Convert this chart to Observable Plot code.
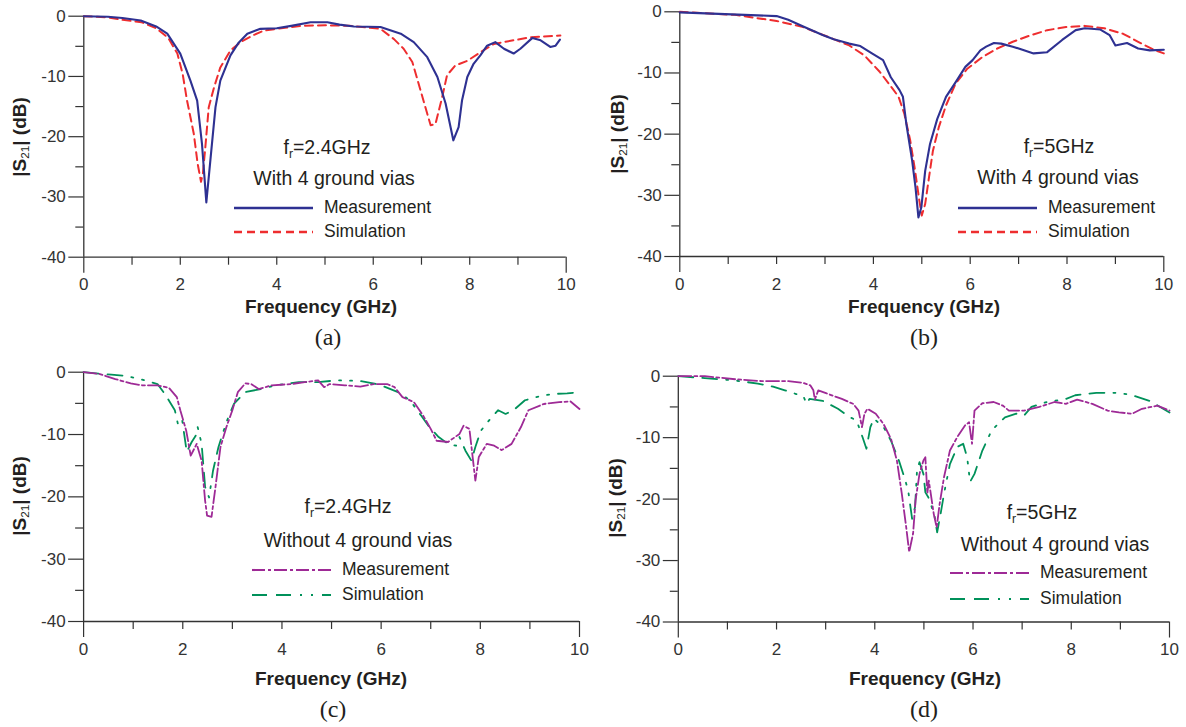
<!DOCTYPE html>
<html><head><meta charset="utf-8">
<script src="https://cdn.jsdelivr.net/npm/d3@7"></script>
<script src="https://cdn.jsdelivr.net/npm/@observablehq/plot@0.6"></script>
<style>
body{margin:0;background:#fff;}
#root{position:relative;width:1186px;height:727px;overflow:hidden;font-family:"Liberation Sans",Arial,sans-serif;color:#231f20;}
.p{position:absolute;}
.t{position:absolute;white-space:nowrap;transform:translate(-50%,-50%);line-height:1;}
.l{position:absolute;white-space:nowrap;transform:translate(0,-50%);line-height:1;font-size:17.5px;}
.xl{font-weight:bold;font-size:19px;}
.cap{font-family:"Liberation Serif","Times New Roman",serif;font-size:24px;}
.yl{font-weight:bold;font-size:19px;transform:translate(-50%,-50%) rotate(-90deg);}
.ann{font-size:19.5px;}
sub{font-size:0.62em;vertical-align:-0.3em;line-height:0;font-weight:normal;}
svg.leg{position:absolute;overflow:visible;}
</style></head><body><div id="root"></div>
<script>
// ---- Data (frequency GHz, |S21| dB) ----
const measA = [[0,0],[0.5,-0.1],[0.8,-0.3],[1.18,-0.7],[1.5,-1.7],[1.73,-2.9],[2.0,-6.2],[2.21,-10.7],[2.35,-14],[2.45,-21.2],[2.54,-30.9],[2.63,-23.4],[2.73,-15.1],[2.83,-10.7],[3.04,-6.5],[3.2,-4.5],[3.39,-2.9],[3.66,-2.1],[4.0,-2],[4.3,-1.6],[4.7,-1.0],[5.05,-1.0],[5.3,-1.4],[5.6,-1.7],[6.15,-1.8],[6.57,-2.9],[6.84,-4.3],[7.12,-6.8],[7.33,-10.1],[7.5,-14.5],[7.66,-20.6],[7.77,-18.4],[7.84,-14],[7.95,-10.1],[8.08,-7.9],[8.22,-6.5],[8.36,-4.9],[8.53,-4.3],[8.71,-5.4],[8.91,-6.2],[9.05,-5.4],[9.3,-3.6],[9.47,-4],[9.67,-5.1],[9.78,-4.9],[9.87,-3.9]];
const simA = [[0,0],[0.5,-0.2],[0.8,-0.6],[1.2,-1.0],[1.5,-2],[1.75,-3.6],[1.94,-6.2],[2.05,-9.6],[2.14,-14],[2.28,-19.5],[2.36,-24.5],[2.43,-27.5],[2.47,-26],[2.52,-21.7],[2.59,-15.1],[2.7,-11.8],[2.83,-8.5],[3.04,-5.7],[3.25,-4.3],[3.5,-3.2],[3.73,-2.4],[4.0,-2.1],[4.5,-1.6],[5.0,-1.5],[5.5,-1.6],[6.15,-2.1],[6.43,-3.8],[6.63,-5.4],[6.81,-7.6],[6.98,-12.3],[7.12,-16.2],[7.19,-18.1],[7.29,-17.9],[7.43,-13.4],[7.53,-9.8],[7.7,-8.2],[7.95,-7.4],[8.22,-6],[8.5,-4.6],[8.91,-4],[9.26,-3.5],[9.88,-3.2]];
const measB = [[0,-0.1],[2.0,-0.7],[2.24,-1.3],[2.55,-2.4],[2.95,-3.8],[3.18,-4.5],[3.5,-5.2],[3.73,-5.6],[3.97,-6.8],[4.2,-7.9],[4.36,-10.7],[4.54,-12.8],[4.61,-13.9],[4.68,-18.3],[4.8,-24.3],[4.87,-28.7],[4.93,-33.6],[4.99,-32],[5.07,-26],[5.17,-21.6],[5.32,-17.5],[5.5,-13.9],[5.7,-11.5],[5.9,-9],[6.05,-7.9],[6.21,-6.3],[6.33,-5.7],[6.49,-5.1],[6.64,-5.2],[6.88,-5.7],[7.08,-6.2],[7.31,-6.8],[7.59,-6.6],[7.9,-4.6],[8.18,-3],[8.37,-2.7],[8.69,-2.9],[8.88,-3.8],[9.0,-5.5],[9.24,-5.1],[9.47,-6],[9.71,-6.3],[10,-6.2]];
const simB = [[0,0],[1.14,-0.5],[2.0,-1.5],[2.55,-2.5],[3.03,-4],[3.5,-5.5],[3.81,-7.1],[4.13,-9.8],[4.4,-12.6],[4.52,-13.9],[4.64,-16.7],[4.76,-21],[4.85,-25.4],[4.95,-30.9],[5.0,-33.3],[5.07,-31.4],[5.15,-27],[5.23,-22.7],[5.35,-18.9],[5.5,-15.3],[5.7,-11.7],[5.94,-9.3],[6.25,-7.4],[6.56,-6],[6.88,-4.9],[7.19,-4],[7.59,-3],[7.98,-2.5],[8.37,-2.3],[8.77,-2.7],[9.16,-3.6],[9.47,-4.9],[9.79,-6.2],[10,-6.8]];
const measC = [[0,0],[0.33,-0.3],[0.64,-1.1],[0.95,-1.8],[1.18,-2.1],[1.49,-2.1],[1.72,-2.5],[1.88,-4],[1.95,-6.1],[2.07,-9.4],[2.16,-13.4],[2.28,-11.5],[2.38,-14.2],[2.45,-20.6],[2.49,-23],[2.58,-23.2],[2.66,-18.4],[2.76,-12],[2.88,-8.8],[3.0,-6.1],[3.11,-3.2],[3.26,-1.8],[3.38,-1.9],[3.53,-2.7],[3.8,-2.1],[4.19,-1.9],[4.73,-1.3],[4.85,-2.4],[4.96,-1.9],[5.27,-2.1],[5.58,-2.3],[5.85,-1.9],[6.12,-1.9],[6.27,-2.4],[6.43,-4],[6.66,-4.8],[6.85,-7],[7.0,-9.1],[7.12,-11],[7.35,-11.2],[7.58,-9.9],[7.66,-8.6],[7.78,-9.1],[7.9,-17.4],[7.97,-13.6],[8.13,-11.5],[8.28,-11.8],[8.43,-12.5],[8.63,-11.5],[8.82,-8.8],[8.97,-6.1],[9.28,-5.1],[9.59,-4.8],[9.82,-4.7],[10,-5.9]];
const simC = [[0,0],[0.56,-0.4],[0.87,-0.6],[1.18,-1.2],[1.49,-1.9],[1.64,-3.5],[1.84,-6.1],[1.91,-8.6],[1.99,-7.8],[2.08,-12.8],[2.18,-11.2],[2.26,-10.2],[2.3,-8.8],[2.38,-11.5],[2.45,-18.4],[2.53,-20.1],[2.61,-15.8],[2.72,-12],[2.88,-8],[3.03,-5.1],[3.26,-3.2],[3.57,-2.7],[3.88,-2.1],[4.34,-1.6],[4.73,-1.6],[5.12,-1.3],[5.58,-1.4],[5.96,-2],[6.34,-3.2],[6.58,-4.5],[6.81,-7],[6.97,-8.8],[7.16,-10.4],[7.35,-11.5],[7.51,-11.8],[7.58,-10.4],[7.7,-12.6],[7.82,-14.2],[7.9,-12],[8.01,-9.4],[8.2,-7.5],[8.36,-6.1],[8.51,-6.7],[8.67,-6.1],[8.9,-4.5],[9.13,-4],[9.44,-3.5],[9.75,-3.4],[10,-3.2]];
const measD = [[0,0],[0.54,0],[1.16,-0.5],[1.7,-0.8],[2.24,-0.8],[2.55,-1.1],[2.69,-1.5],[2.75,-2.3],[2.78,-3.8],[2.85,-2.3],[3.02,-2.8],[3.33,-3.7],[3.56,-4.5],[3.67,-5.6],[3.74,-8.3],[3.79,-6.1],[3.85,-5.3],[4.02,-6.1],[4.18,-7.8],[4.33,-10.2],[4.45,-13.7],[4.55,-19.1],[4.64,-24.6],[4.7,-28.6],[4.78,-25.6],[4.83,-20.2],[4.91,-15.9],[4.99,-13.7],[5.03,-13.2],[5.07,-19.1],[5.1,-17],[5.16,-20.2],[5.2,-22.4],[5.26,-24.6],[5.32,-20.8],[5.41,-16.4],[5.53,-12.1],[5.68,-9.9],[5.84,-8],[5.92,-7.5],[5.96,-9.9],[5.98,-11],[6.03,-5.6],[6.19,-4.4],[6.42,-4.2],[6.61,-4.8],[6.73,-5.6],[7.04,-5.6],[7.35,-5],[7.66,-4.2],[7.89,-4.5],[8.12,-3.8],[8.43,-4.5],[8.74,-5.6],[8.97,-5.9],[9.24,-6.1],[9.44,-5.3],[9.75,-4.8],[10,-5.6]];
const simD = [[0,0],[0.54,-0.3],[1.16,-0.7],[1.62,-1.2],[1.93,-1.7],[2.17,-2.3],[2.4,-2.9],[2.55,-3.3],[2.61,-4.5],[2.67,-3.7],[2.94,-4],[3.25,-5.3],[3.48,-6.6],[3.63,-7.2],[3.75,-9.9],[3.83,-11.8],[3.91,-8.3],[3.98,-6.9],[4.18,-8.3],[4.33,-10.5],[4.49,-13.7],[4.6,-16.4],[4.68,-18.6],[4.76,-23.2],[4.82,-21.3],[4.86,-15.3],[4.91,-14],[4.99,-15.9],[5.03,-18.9],[5.09,-19.7],[5.14,-20.8],[5.22,-22.9],[5.27,-25.4],[5.34,-22.4],[5.41,-19.1],[5.53,-14.3],[5.68,-11.5],[5.8,-11],[5.88,-13.2],[5.94,-17.2],[6.03,-15.9],[6.19,-12.1],[6.38,-8.8],[6.65,-6.7],[6.88,-6.1],[7.04,-6.4],[7.19,-5],[7.5,-4.2],[7.89,-3.7],[8.08,-3.1],[8.51,-2.7],[8.89,-2.7],[9.2,-3],[9.59,-4],[10,-5.9]];

const yMajor = [0,-10,-20,-30,-40];
const yMinor = [-5,-15,-25,-35];
const xLabels = [0,2,4,6,8,10];
const xMinor = [1,2,3,4,5,6,7,8,9];
const xEnds = [0,10];
const seriesNames = ["Measurement","Simulation"];
const captions = ["(a)","(b)","(c)","(d)"];

// ---- Styles ----
const AX = "#333";
const styles = {
  blue:{stroke:"#2e3192",dash:null,w:2.1},
  red:{stroke:"#ee2d2f",dash:"8,5",w:2},
  mag:{stroke:"#9e2a96",dash:"13,3,3,3",w:1.8},
  grn:{stroke:"#00915a",dash:"15,9,15,9,2,9,2,9",w:1.8}
};

const panels = [
  {left:0,top:0,w:590,h:300,x0:83.3,x10:565.7,y0:15.7,y40:256.7,
   meas:measA,sim:simA,ms:styles.blue,ss:styles.red,
   fr:"2.4GHz",via:"With 4 ground vias",frX:327,frY:148,viaX:334,viaY:179,
   legX:234,legY:208,legY2:232,xlX:321,xlY:306,capX:328,capY:337,ylX:19,ylY:137},
  {left:590,top:0,w:596,h:300,x0:679.3,x10:1163.3,y0:11.3,y40:256,
   meas:measB,sim:simB,ms:styles.blue,ss:styles.red,
   fr:"5GHz",via:"With 4 ground vias",frX:1059,frY:147,viaX:1058,viaY:178,
   legX:958,legY:208,legY2:232,xlX:924,xlY:306,capX:924,capY:337,ylX:617,ylY:134},
  {left:0,top:350,w:600,h:320,x0:83.1,x10:579,y0:371.7,y40:621,
   meas:measC,sim:simC,ms:styles.mag,ss:styles.grn,
   fr:"2.4GHz",via:"Without 4 ground vias",frX:348,frY:507,viaX:358,viaY:541,
   legX:252,legY:570,legY2:595,xlX:331,xlY:678,capX:333,capY:709,ylX:19,ylY:496},
  {left:590,top:350,w:596,h:320,x0:677.8,x10:1169,y0:375.7,y40:621.5,
   meas:measD,sim:simD,ms:styles.mag,ss:styles.grn,
   fr:"5GHz",via:"Without 4 ground vias",frX:1042,frY:513,viaX:1055,viaY:545,
   legX:950,legY:573,legY2:599,xlX:925,xlY:678,capX:924,capY:709,ylX:615,ylY:498}
];

const root = document.getElementById("root");
function addDiv(cls, html, x, y){
  const d = document.createElement("div");
  d.className = cls; d.innerHTML = html;
  d.style.left = x+"px"; d.style.top = y+"px";
  root.appendChild(d); return d;
}
function legendLine(st, x, y){
  const ns = "http://www.w3.org/2000/svg";
  const s = document.createElementNS(ns,"svg");
  s.setAttribute("class","leg"); s.setAttribute("width",80); s.setAttribute("height",6);
  s.style.left = x+"px"; s.style.top = (y-3)+"px";
  const l = document.createElementNS(ns,"line");
  l.setAttribute("x1",0); l.setAttribute("x2",79); l.setAttribute("y1",3); l.setAttribute("y2",3);
  l.setAttribute("stroke",st.stroke); l.setAttribute("stroke-width",st.w+0.3);
  if (st.dash) l.setAttribute("stroke-dasharray",st.dash);
  s.appendChild(l); root.appendChild(s);
}

const fmt = d => String(d);
panels.forEach((p,i)=>{
  const toRows = arr => arr.map(([x,y])=>({x,y}));
  const tickOnly = {stroke:AX, fill:"none", strokeWidth:1.2, label:null};
  const textOnly = {fill:AX, fontSize:17, tickSize:0, label:null, tickFormat:fmt};
  const chart = Plot.plot({
    width:p.w, height:p.h,
    marginLeft:p.x0-p.left, marginRight:p.left+p.w-p.x10,
    marginTop:p.y0-p.top, marginBottom:p.top+p.h-p.y40,
    x:{domain:[0,10]}, y:{domain:[-40,0]},
    style:{fontFamily:"Liberation Sans, Arial, sans-serif", color:AX, background:"transparent", overflow:"visible"},
    marks:[
      Plot.axisY(yMajor,{...tickOnly, tickSize:15}),
      Plot.axisY(yMinor,{...tickOnly, tickSize:8}),
      Plot.axisX(xMinor,{...tickOnly, tickSize:8}),
      Plot.axisX(xEnds,{...tickOnly, tickSize:16}),
      Plot.axisY(yMajor,{...textOnly, tickPadding:18}),
      Plot.axisX(xLabels,{...textOnly, tickPadding:21}),
      Plot.ruleX([0],{stroke:AX, strokeWidth:1.3}),
      Plot.ruleY([-40],{stroke:AX, strokeWidth:1.3}),
      Plot.line(toRows(p.sim),{x:"x",y:"y",stroke:p.ss.stroke,strokeWidth:p.ss.w,strokeDasharray:p.ss.dash}),
      Plot.line(toRows(p.meas),{x:"x",y:"y",stroke:p.ms.stroke,strokeWidth:p.ms.w,strokeDasharray:p.ms.dash||undefined})
    ]
  });
  const wrap = document.createElement("div");
  wrap.className = "p"; wrap.style.left = p.left+"px"; wrap.style.top = p.top+"px";
  wrap.appendChild(chart); root.appendChild(wrap);

  addDiv("t ann","f<sub>r</sub>="+p.fr, p.frX, p.frY);
  addDiv("t ann", p.via, p.viaX, p.viaY);
  legendLine(p.ms, p.legX, p.legY);
  legendLine(p.ss, p.legX, p.legY2);
  addDiv("l", seriesNames[0], p.legX+90, p.legY);
  addDiv("l", seriesNames[1], p.legX+90, p.legY2);
  addDiv("t xl","Frequency (GHz)", p.xlX, p.xlY);
  addDiv("t cap", captions[i], p.capX, p.capY);
  addDiv("t yl","|S<sub>21</sub>| (dB)", p.ylX, p.ylY);
});
</script></body></html>
